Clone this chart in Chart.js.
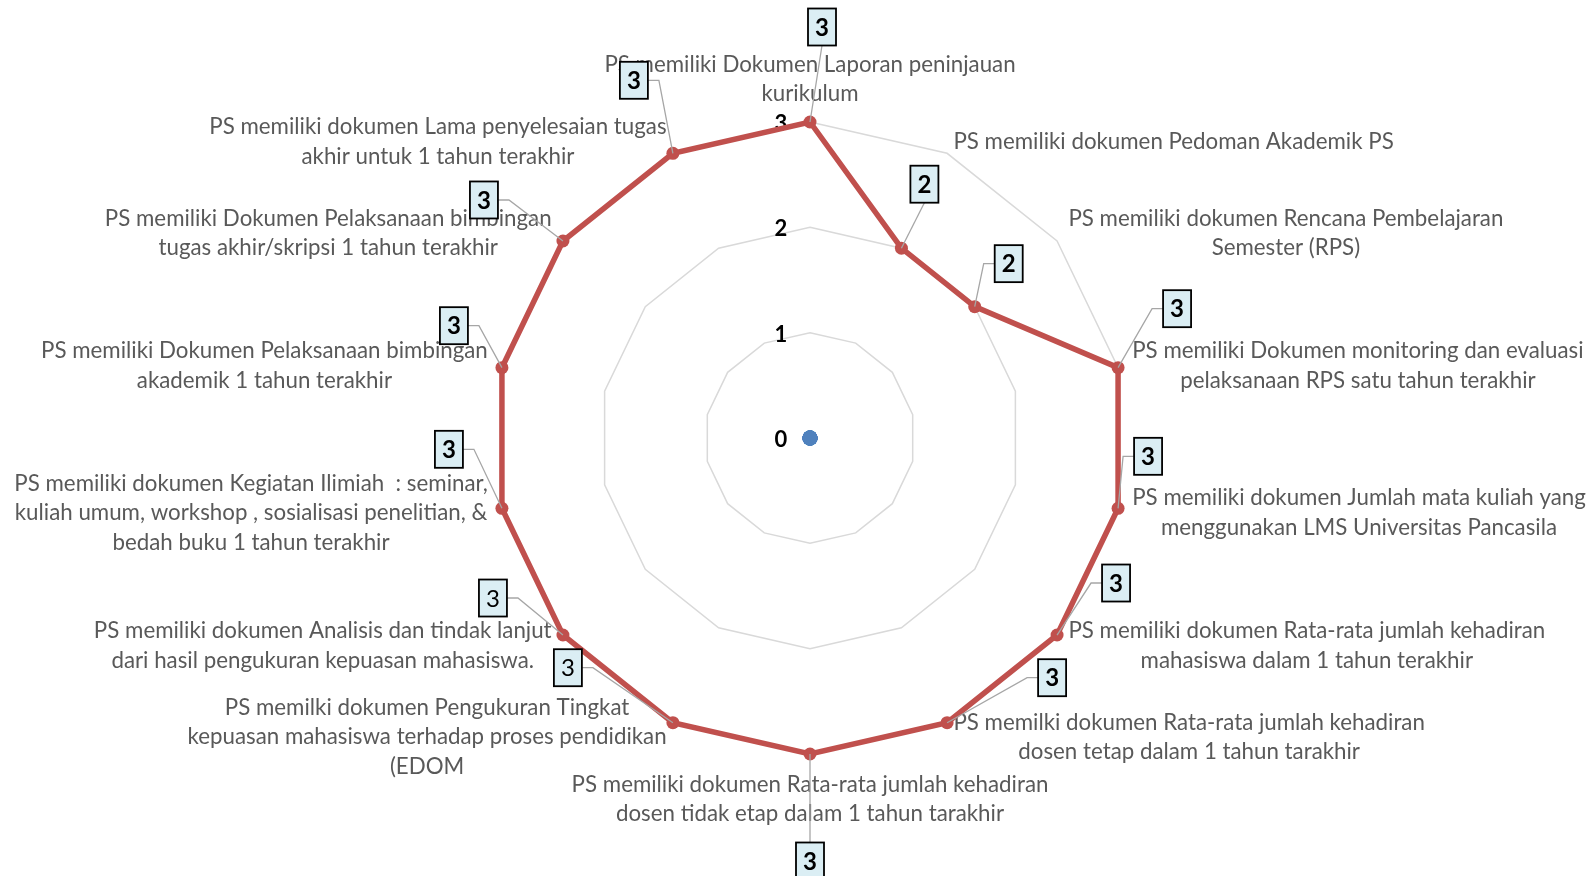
<!DOCTYPE html>
<html>
<head>
<meta charset="utf-8">
<script src="https://cdn.jsdelivr.net/npm/chart.js@4.4.0/dist/chart.umd.min.js"></script>
<style>
  html, body { margin: 0; padding: 0; background: #fff; }
  #wrap { width: 1596px; height: 876px; }
</style>
</head>
<body>
<div id="wrap"><canvas id="radar" width="1596" height="876"></canvas></div>
<script>
// kategori (satu baris per elemen array)
const kategori = [
  ["PS memiliki Dokumen Laporan peninjauan", "kurikulum"],
  ["PS memiliki dokumen Pedoman Akademik PS"],
  ["PS memiliki dokumen Rencana Pembelajaran", "Semester (RPS)"],
  ["PS memiliki Dokumen monitoring dan evaluasi", "pelaksanaan RPS satu tahun terakhir"],
  ["PS memiliki dokumen Jumlah mata kuliah yang", "menggunakan LMS Universitas Pancasila"],
  ["PS memiliki dokumen Rata-rata jumlah kehadiran", "mahasiswa dalam 1 tahun terakhir"],
  ["PS memilki dokumen Rata-rata jumlah kehadiran", "dosen tetap dalam 1 tahun tarakhir"],
  ["PS memiliki dokumen Rata-rata jumlah kehadiran", "dosen tidak etap dalam 1 tahun tarakhir"],
  ["PS memilki dokumen Pengukuran Tingkat", "kepuasan mahasiswa terhadap proses pendidikan", "(EDOM"],
  ["PS memiliki dokumen Analisis dan tindak lanjut", "dari hasil pengukuran kepuasan mahasiswa."],
  ["PS memiliki dokumen Kegiatan Ilimiah  : seminar,", "kuliah umum, workshop , sosialisasi penelitian, &", "bedah buku 1 tahun terakhir"],
  ["PS memiliki Dokumen Pelaksanaan bimbingan", "akademik 1 tahun terakhir"],
  ["PS memiliki Dokumen Pelaksanaan bimbingan", "tugas akhir/skripsi 1 tahun terakhir"],
  ["PS memiliki dokumen Lama penyelesaian tugas", "akhir untuk 1 tahun terakhir"]
];
const skor = [3, 2, 2, 3, 3, 3, 3, 3, 3, 3, 3, 3, 3, 3];
const nol = [0, 0, 0, 0, 0, 0, 0, 0, 0, 0, 0, 0, 0, 0];
const tickLabels = [0, 1, 2, 3];

// letak kotak label data relatif ke titiknya (gaya, bukan data)
const calloutOffset = [
  [12, -95], [23, -64], [34, -43], [59, -59], [30, -52], [59, -52], [105, -45],
  [0, 107], [-105, -55], [-70, -37], [-53, -59], [-48, -42], [-79, -41], [-39, -73]
];
const calloutBold = [1, 1, 1, 1, 1, 1, 1, 1, 0, 0, 1, 1, 1, 1];

const FONT = 'Lato, "Open Sans", sans-serif';

const labelPlugin = {
  id: 'labelExcel',
  beforeDatasetsDraw(chart) {
    const ctx = chart.ctx;
    const scale = chart.scales.r;
    ctx.save();
    // tick 0..3 di kiri sumbu
    ctx.font = 'bold 22px ' + FONT;
    ctx.fillStyle = '#000';
    ctx.textAlign = 'center';
    ctx.textBaseline = 'middle';
    tickLabels.forEach(function (v) {
      const y = scale.yCenter - scale.getDistanceFromCenterForValue(v);
      ctx.fillText(String(v), scale.xCenter - 29, y + 2);
    });

    // label kategori
    ctx.font = '22.3px ' + FONT;
    ctx.fillStyle = '#595959';
    const lh = 29.5;
    for (let i = 0; i < kategori.length; i++) {
      const lines = kategori[i];
      const p = scale.getPointPosition(i, scale.drawingArea + 14.5);
      const ang = scale.getIndexAngle(i) - Math.PI / 2;
      const c = Math.cos(ang);
      const s = Math.sin(ang);
      let bw = 0;
      lines.forEach(function (t) { bw = Math.max(bw, ctx.measureText(t).width); });
      const bh = lines.length * lh;
      let cx, top;
      if (Math.abs(c) < 0.01) {
        cx = p.x;
        top = s < 0 ? p.y - bh : p.y;
      } else {
        cx = c > 0 ? p.x + bw / 2 : p.x - bw / 2;
        top = p.y - bh / 2;
      }
      ctx.textAlign = 'center';
      lines.forEach(function (t, k) {
        ctx.fillText(t, cx, top + lh * k + lh / 2 + 1.5);
      });
    }
    ctx.restore();
  },
  afterDatasetsDraw(chart) {
    const ctx = chart.ctx;
    const meta = chart.getDatasetMeta(0);
    const bw = 28, bh = 37;
    ctx.save();
    meta.data.forEach(function (pt, i) {
      const dx = calloutOffset[i][0], dy = calloutOffset[i][1];
      const bx = pt.x + dx, by = pt.y + dy;
      ctx.strokeStyle = '#a6a6a6';
      ctx.lineWidth = 1.3;
      ctx.beginPath();
      if (Math.abs(dx) > 0.45 * Math.abs(dy)) {
        const side = dx > 0 ? bx - bw / 2 : bx + bw / 2;
        const stub = dx > 0 ? side - 11 : side + 11;
        ctx.moveTo(side, by);
        ctx.lineTo(stub, by);
        ctx.lineTo(pt.x, pt.y);
      } else {
        const edge = dy < 0 ? by + bh / 2 : by - bh / 2;
        ctx.moveTo(bx, edge);
        ctx.lineTo(pt.x, pt.y);
      }
      ctx.stroke();

      ctx.fillStyle = '#dbeef4';
      ctx.fillRect(bx - bw / 2, by - bh / 2, bw, bh);
      ctx.strokeStyle = '#000';
      ctx.lineWidth = 1.8;
      ctx.strokeRect(bx - bw / 2, by - bh / 2, bw, bh);

      ctx.fillStyle = '#000';
      ctx.font = (calloutBold[i] ? 'bold ' : '') + '24px ' + FONT;
      ctx.textAlign = 'center';
      ctx.textBaseline = 'middle';
      ctx.fillText(String(skor[i]), bx, by + 1);
    });
    ctx.restore();
  }
};

new Chart(document.getElementById('radar').getContext('2d'), {
  type: 'radar',
  data: {
    labels: kategori,
    datasets: [
      {
        label: 'Skor',
        data: skor,
        borderColor: '#c0504d',
        backgroundColor: '#c0504d',
        borderWidth: 5.5,
        pointRadius: 6.5,
        pointBorderWidth: 0,
        pointBackgroundColor: '#c0504d',
        fill: false
      },
      {
        label: 'Nol',
        data: nol,
        showLine: false,
        borderWidth: 0,
        pointRadius: 7.5,
        pointBorderWidth: 0,
        pointBackgroundColor: '#4f81bd',
        fill: false
      }
    ]
  },
  options: {
    responsive: false,
    animation: false,
    layout: { padding: { top: 122, bottom: 122, left: 25, right: 0 } },
    plugins: { legend: { display: false }, tooltip: { enabled: false } },
    scales: {
      r: {
        min: 0,
        max: 3,
        ticks: { display: false, stepSize: 1 },
        grid: { color: '#d9d9d9', lineWidth: 1.5 },
        angleLines: { display: false },
        pointLabels: { display: false }
      }
    }
  },
  plugins: [labelPlugin]
});
</script>
</body>
</html>
